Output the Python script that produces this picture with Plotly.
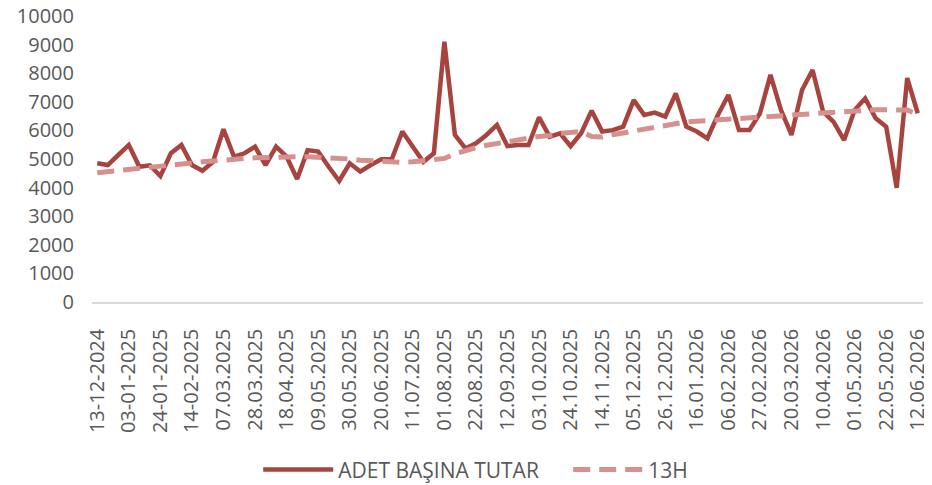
import pandas as pd
import plotly.graph_objects as go

start_date = "2024-12-13"
n_weeks = 79
categories = [d.strftime("%Y-%m-%d") for d in pd.date_range(start_date, periods=n_weeks, freq="7D")]

adet_basina_tutar = [
    4850, 4790, 5140, 5490, 4730, 4780, 4400, 5200, 5490, 4790,
    4590, 4900, 6040, 5080, 5200, 5430, 4790, 5430, 5080, 4300,
    5310, 5260, 4730, 4230, 4850, 4560, 4790, 4990, 4990, 5960,
    5430, 4900, 5200, 9100, 5840, 5370, 5550, 5840, 6190, 5450,
    5490, 5490, 6460, 5780, 5900, 5450, 5900, 6690, 5960, 6010,
    6130, 7060, 6540, 6620, 6480, 7290, 6130, 5960, 5720, 6540,
    7240, 6010, 6010, 6600, 7940, 6710, 5840, 7410, 8110, 6660,
    6300, 5660, 6710, 7120, 6420, 6130, 3990, 7830, 6600,
]

h13 = [
    4520, 4560, 4620, 4660, 4700, 4730, 4760, 4800, 4850, 4880,
    4900, 4930, 4970, 4990, 5020, 5040, 5060, 5070, 5080, 5080,
    5080, 5070, 5050, 5020, 5000, 4960, 4930, 4900, 4880, 4880,
    4900, 4930, 4970, 5020, 5180, 5300, 5400, 5480, 5550, 5620,
    5680, 5740, 5790, 5820, 5900, 5930, 5960, 5790, 5770, 5850,
    5920, 5990, 6060, 6130, 6200, 6260, 6300, 6320, 6340, 6360,
    6390, 6410, 6430, 6450, 6470, 6500, 6530, 6550, 6580, 6610,
    6640, 6660, 6690, 6710, 6720, 6720, 6720, 6710, 6560,
]

tick_labels = [
    "13-12-2024", "03-01-2025", "24-01-2025", "14-02-2025", "07.03.2025",
    "28.03.2025", "18.04.2025", "09.05.2025", "30.05.2025", "20.06.2025",
    "11.07.2025", "01.08.2025", "22.08.2025", "12.09.2025", "03.10.2025",
    "24.10.2025", "14.11.2025", "05.12.2025", "26.12.2025", "16.01.2026",
    "06.02.2026", "27.02.2026", "20.03.2026", "10.04.2026", "01.05.2026",
    "22.05.2026", "12.06.2026",
]
tick_step = 3

font_family = "'Open Sans', sans-serif"
grey = "#595959"

fig = go.Figure()
fig.add_trace(go.Scatter(
    x=categories, y=adet_basina_tutar, mode="lines", name="ADET BAŞINA TUTAR",
    line=dict(color="#A8443F", width=4.5),
))
fig.add_trace(go.Scatter(
    x=categories, y=h13, mode="lines", name="13H",
    line=dict(color="#D6918E", width=5, dash="17px,9px"),
))

# page has an 8px body margin; plot geometry is set to match the window
fig.update_layout(
    width=924, height=500,
    margin=dict(l=84, r=9, t=8, b=206),
    paper_bgcolor="white", plot_bgcolor="white",
    font=dict(family=font_family, color=grey, size=20),
    showlegend=True,
    legend=dict(
        orientation="h", x=0.2, xanchor="left", y=-0.587, yanchor="middle",
        font=dict(size=21, color=grey), itemwidth=70, entrywidth=225,
        traceorder="normal",
    ),
    xaxis=dict(
        type="category", tickmode="array",
        tickvals=categories[::tick_step], ticktext=tick_labels,
        tickangle=-90, showgrid=False, showline=True, linecolor="#D9D9D9",
        linewidth=1.5, ticks="", tickfont=dict(size=20, color=grey),
        range=[-0.5, n_weeks - 0.5], automargin=False, ticklabelstandoff=17,
        ticklabeloverflow="allow",
    ),
    yaxis=dict(
        range=[0, 10000], dtick=1000, tickformat="d", showgrid=False, zeroline=False,
        showline=False, ticks="", tickfont=dict(size=20, color=grey),
        automargin=False, ticklabelstandoff=17, ticklabeloverflow="allow",
    ),
)

fig.write_html("out.html")
